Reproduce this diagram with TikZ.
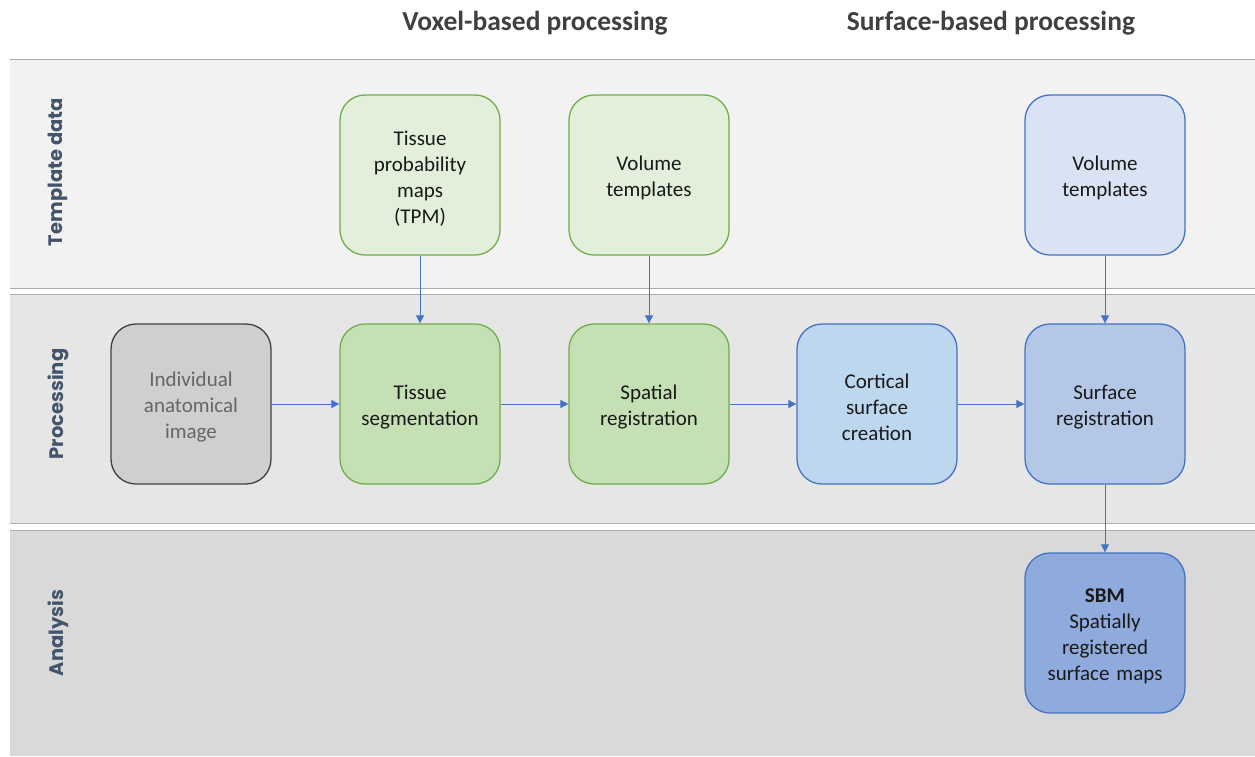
\documentclass[tikz,border=0pt]{standalone}
\usepackage{fontspec}
\setmainfont{Carlito}
\newfontfamily\lanefont{Poppins}
\usetikzlibrary{arrows.meta}
\definecolor{laneA}{HTML}{F2F2F2}
\definecolor{laneB}{HTML}{E6E6E6}
\definecolor{laneC}{HTML}{D9D9D9}
\definecolor{laneline}{HTML}{ADADAD}
\definecolor{lanetext}{HTML}{44546A}
\definecolor{headtext}{HTML}{404040}
\definecolor{greenA}{HTML}{E2EFDA}
\definecolor{greenB}{HTML}{C5E0B4}
\definecolor{greenE}{HTML}{70AD47}
\definecolor{grayF}{HTML}{D0CECE}
\definecolor{grayE}{HTML}{404040}
\definecolor{blueA}{HTML}{DAE3F3}
\definecolor{blueB}{HTML}{BDD7EE}
\definecolor{blueC}{HTML}{B4C7E7}
\definecolor{blueD}{HTML}{8FAADC}
\definecolor{blueE}{HTML}{4472C4}
\tikzset{
  box/.style={rounded corners=25pt, minimum width=160pt, minimum height=160pt,
    line width=1.3pt, align=center, text width=150pt,
    font=\fontsize{21}{26}\selectfont, text=black!90,
    execute at begin node={\rule{0pt}{21pt}}},
  lane/.style={draw=laneline, line width=0.9pt},
  lanelabel/.style={rotate=90, text=lanetext, font=\lanefont\bfseries\fontsize{19.5}{22}\selectfont},
  header/.style={text=headtext, font=\bfseries\fontsize{27.5}{30}\selectfont},
  flow/.style={draw=blueE, line width=0.9pt, -{Triangle[length=8pt,width=8pt]}},
}
\begin{document}
\begin{tikzpicture}[x=1pt, y=-1pt]
\useasboundingbox (0,0) rectangle (1255,756);
\fill[white] (0,0) rectangle (1255,756);

% swim lanes
\fill[laneA] (10,59) rectangle (1255,288);
\draw[lane] (10,59) -- (1255,59);
\draw[lane] (10,288) -- (1255,288);
\fill[laneB] (10,294) rectangle (1255,523);
\draw[lane] (10,294) -- (1255,294);
\draw[lane] (10,523) -- (1255,523);
\fill[laneC] (10,530) rectangle (1255,756);
\draw[lane] (10,530) -- (1255,530);

% column headers
\node[header] (hvox) at (535,23) {Voxel-based processing};
\node[header] (hsurf) at (991,23) {Surface-based processing};

% lane labels
\node[lanelabel] (ltmpl) at (58,172) {Template data};
\node[lanelabel] (lproc) at (58,404) {Processing};
\node[lanelabel] (lanal) at (58,633) {Analysis};

% template data
\node[box, fill=greenA, draw=greenE] (tpm) at (420,175) {Tissue\\probability\\maps\\(TPM)};
\node[box, fill=greenA, draw=greenE] (vtv) at (649,175) {Volume\\templates\\[26pt]};
\node[box, fill=blueA, draw=blueE] (vts) at (1105,175) {Volume\\templates\\[26pt]};

% processing
\node[box, fill=grayF, draw=grayE, text=black!60] (img) at (191,404) {Individual\\anatomical\\image};
\node[box, fill=greenB, draw=greenE] (seg) at (420,404) {Tissue\\segmentation};
\node[box, fill=greenB, draw=greenE] (spat) at (649,404) {Spatial\\registration};
\node[box, fill=blueB, draw=blueE] (cort) at (877,404) {Cortical\\surface\\creation};
\node[box, fill=blueC, draw=blueE] (sreg) at (1105,404) {Surface\\registration};

% analysis
\node[box, fill=blueD, draw=blueE] (sbm) at (1105,633) {\textbf{SBM}\\Spatially\\registered\\surface maps};

% connectors
\draw[flow] (tpm) -- (seg);
\draw[flow] (vtv) -- (spat);
\draw[flow] (vts) -- (sreg);
\draw[flow] (img) -- (seg);
\draw[flow] (seg) -- (spat);
\draw[flow] (spat) -- (cort);
\draw[flow] (cort) -- (sreg);
\draw[flow] (sreg) -- (sbm);
\end{tikzpicture}
\end{document}
